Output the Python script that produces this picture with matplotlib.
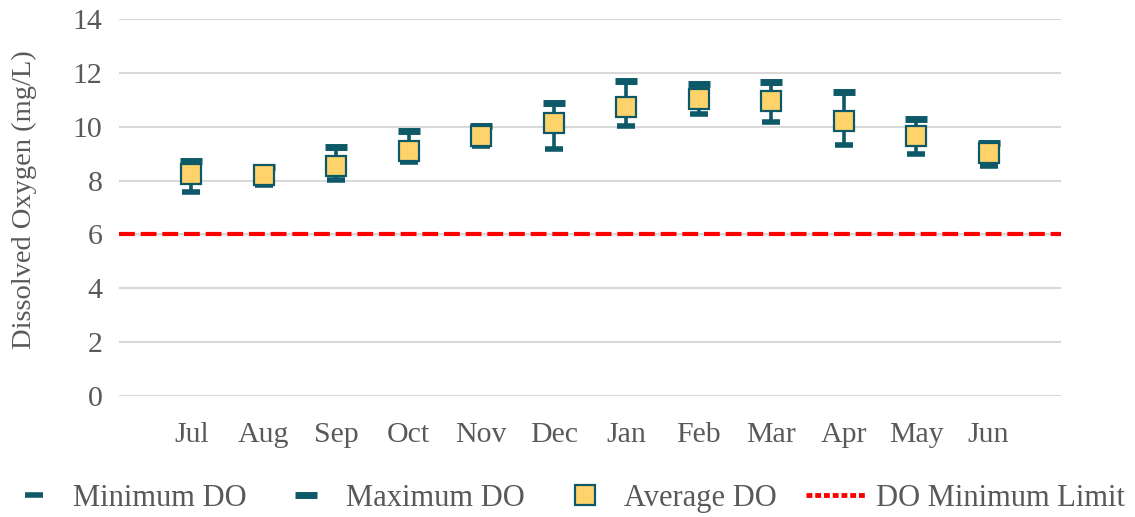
import matplotlib.pyplot as plt
from matplotlib.lines import Line2D
import numpy as np

plt.rcParams['font.family'] = ['Liberation Serif', 'DejaVu Serif']

months = ['Jul', 'Aug', 'Sep', 'Oct', 'Nov', 'Dec', 'Jan', 'Feb', 'Mar', 'Apr', 'May', 'Jun']
do_min = [7.58, 7.84, 8.02, 8.69, 9.28, 9.19, 10.03, 10.48, 10.16, 9.33, 8.99, 8.56]
do_max = [8.73, 8.52, 9.25, 9.84, 10.03, 10.87, 11.71, 11.57, 11.66, 11.28, 10.27, 9.40]
do_avg = [8.24, 8.22, 8.55, 9.11, 9.65, 10.15, 10.74, 11.03, 10.95, 10.21, 9.66, 9.01]
do_limit = 6

teal = '#0d5968'
yellow = '#ffd36b'
grey = '#595959'

x = np.arange(len(months))

fig = plt.figure(figsize=(11.35, 5.17), dpi=100)
ax = fig.add_axes([0.1048, 0.234, 0.83, 0.7292])

ax.vlines(x, do_min, do_max, color=teal, lw=2.6, zorder=3)
h_min, = ax.plot(x, do_min, ls='none', marker='_', ms=13, mew=4, color=teal,
                 label='Minimum DO', zorder=4)
h_max, = ax.plot(x, do_max, ls='none', marker='_', ms=16, mew=5, color=teal,
                 label='Maximum DO', zorder=4)
h_avg, = ax.plot(x, do_avg, ls='none', marker='s', ms=14, mew=1.6, mfc=yellow, mec=teal,
                 label='Average DO', zorder=5)
ax.axhline(do_limit, color='#ff0000', lw=3, dashes=(3.8, 1.4), zorder=2)
# legend shows the limit as a dotted line
h_lim = Line2D([], [], color='#ff0000', lw=3.5, dashes=(1.2, 0.6))

ax.set_xlim(-1, 12)
ax.set_ylim(0, 14)
ax.set_yticks(range(0, 15, 2))
ax.set_xticks(x)
ax.set_xticklabels(months)
ax.tick_params(length=0, labelsize=21.5, labelcolor=grey)
ax.tick_params(axis='x', pad=19)
ax.tick_params(axis='y', pad=12)
ax.grid(axis='y', color='#d9d9d9', lw=1.5)
ax.set_axisbelow(True)
for s in ax.spines.values():
    s.set_visible(False)

ax.set_ylabel('Dissolved Oxygen (mg/L)', fontsize=20.5, color=grey)
ax.yaxis.set_label_coords(-0.087, 0.52)

fig.legend([h_min, h_max, h_avg, h_lim],
           ['Minimum DO', 'Maximum DO', 'Average DO', 'DO Minimum Limit'],
           loc='center', bbox_to_anchor=(0.497, 0.036), ncol=4, frameon=False,
           fontsize=22, labelcolor=grey, handlelength=2.0, columnspacing=0.95,
           handletextpad=0.3)

fig.savefig('out.png')
